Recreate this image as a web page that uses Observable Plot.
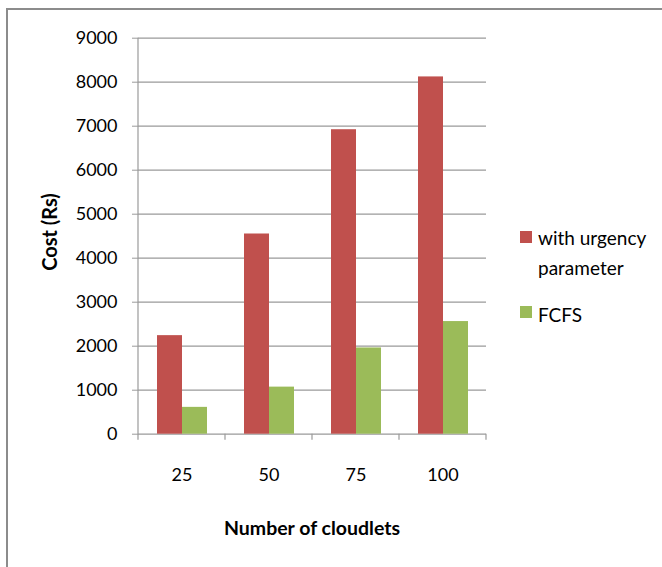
<!DOCTYPE html>
<html><head><meta charset="utf-8">
<script src="https://cdn.jsdelivr.net/npm/d3@7"></script>
<script src="https://cdn.jsdelivr.net/npm/@observablehq/plot@0.6"></script>
<style>
html,body{margin:0;padding:0;background:#fff;}
#wrap{position:relative;width:662px;height:567px;overflow:hidden;font-family:Lato,"Open Sans",sans-serif;color:#000;}
#wrap svg{position:absolute;left:0;top:0;}
#border{position:absolute;left:6px;top:8px;width:720px;height:620px;border-left:2px solid #8c8c8c;border-top:2px solid #8c8c8c;z-index:2;pointer-events:none;}
.ttl{position:absolute;font-weight:bold;white-space:nowrap;z-index:3;}
.leg{position:absolute;font-size:19px;z-index:3;white-space:nowrap;}
.sw{position:absolute;width:12px;height:12px;z-index:3;}
</style>
</head><body>
<div id="wrap"><div id="border"></div></div>
<script>
const cloudlets = ["25", "50", "75", "100"];
const seriesNames = ["with urgency parameter", "FCFS"];
const urgencyCost = [2240, 4550, 6920, 8120];
const fcfsCost = [610, 1070, 1960, 2560];
const seriesColors = ["#C0504D", "#9BBB59"];
const yTicks = [0, 1000, 2000, 3000, 4000, 5000, 6000, 7000, 8000, 9000];
const xTitle = "Number of cloudlets";
const yTitle = "Cost (Rs)";

const rows = [];
cloudlets.forEach((c, i) => {
  rows.push({cloudlet: c, series: seriesNames[0], cost: urgencyCost[i]});
  rows.push({cloudlet: c, series: seriesNames[1], cost: fcfsCost[i]});
});

const chart = Plot.plot({
  width: 662, height: 567,
  marginLeft: 137, marginRight: 174.5, marginTop: 37.7, marginBottom: 133.3,
  style: {fontFamily: "Lato, 'Open Sans', sans-serif", fontSize: "18px", color: "#000", background: "transparent", overflow: "visible"},
  fx: {domain: cloudlets, padding: 0, label: null, axis: null},
  x: {domain: seriesNames, paddingInner: 0, paddingOuter: 0.74, axis: null},
  y: {domain: [0, 9000], label: null},
  color: {domain: seriesNames, range: seriesColors},
  marks: [
    Plot.gridY(yTicks, {stroke: "#9a9a9a", strokeOpacity: 1, strokeWidth: 1.2}),
    Plot.barY(rows, {fx: "cloudlet", x: "series", y: "cost", fill: "series"}),
    Plot.axisY(yTicks, {tickSize: 6, tickPadding: 15, label: null, fontSize: 18, stroke: "#9a9a9a", tickFormat: d => String(d)}),
    Plot.axisFx({anchor: "bottom", tickSize: 0, tickPadding: 34, label: null, fontSize: 18})
  ]
});
const wrap = document.getElementById("wrap");
wrap.appendChild(chart);

// axis line and category boundary ticks, from the chart's own scales
const fx = chart.scale("fx"), y = chart.scale("y");
const svg = d3.select(chart);
const y0 = y.apply(0), yTop = y.apply(9000);
const g = svg.append("g").attr("stroke", "#9a9a9a").attr("stroke-width", 1.2);
const x0 = fx.apply(cloudlets[0]);
g.append("line").attr("x1", x0).attr("x2", x0).attr("y1", yTop).attr("y2", y0 + 6);
cloudlets.forEach(c => {
  const xe = fx.apply(c) + fx.bandwidth;
  g.append("line").attr("x1", xe).attr("x2", xe).attr("y1", y0).attr("y2", y0 + 6);
});

// titles
const yt = document.createElement("div");
yt.className = "ttl"; yt.textContent = yTitle; yt.style.fontSize = "20px";
yt.style.left = "49px"; yt.style.top = "232px";
yt.style.transform = "translate(-50%,-50%) rotate(-90deg)";
wrap.appendChild(yt);
const xt = document.createElement("div");
xt.className = "ttl"; xt.textContent = xTitle; xt.style.fontSize = "19.5px";
xt.style.left = "312px"; xt.style.top = "527px";
xt.style.transform = "translate(-50%,-50%)";
wrap.appendChild(xt);

// legend
const legendPos = [{sx: 520, sy: 231, tx: 538, ty: 223, lines: ["with urgency", "parameter"]},
                   {sx: 520, sy: 306, tx: 538, ty: 300, lines: ["FCFS"]}];
seriesNames.forEach((s, i) => {
  const p = legendPos[i];
  const sw = document.createElement("div");
  sw.className = "sw"; sw.style.background = seriesColors[i];
  sw.style.left = p.sx + "px"; sw.style.top = p.sy + "px";
  wrap.appendChild(sw);
  const t = document.createElement("div");
  t.className = "leg"; t.style.left = p.tx + "px"; t.style.top = p.ty + "px";
  t.style.lineHeight = "30px";
  t.innerHTML = p.lines.join("<br>");
  wrap.appendChild(t);
});
</script>
</body></html>
